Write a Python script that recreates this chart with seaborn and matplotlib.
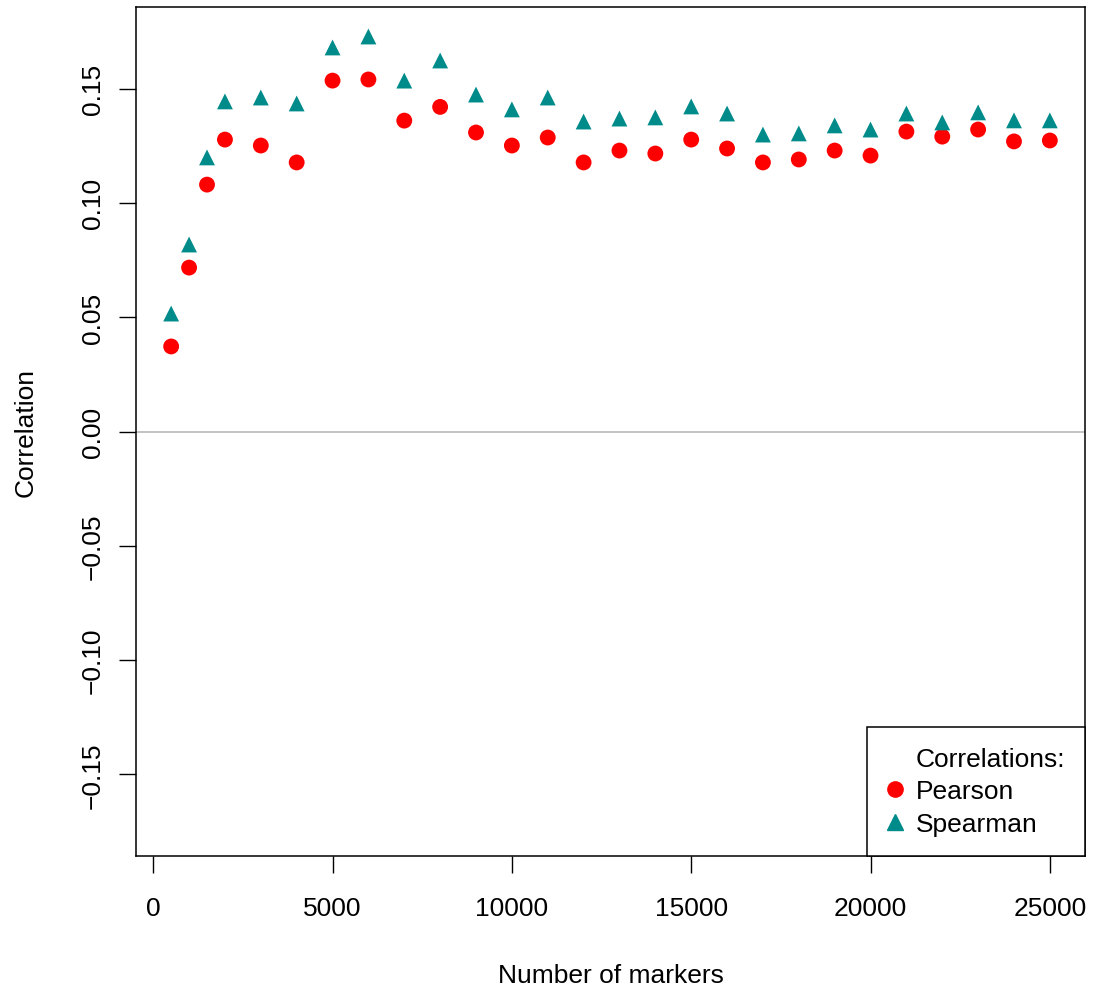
import matplotlib
matplotlib.use("Agg")
import matplotlib.pyplot as plt
from matplotlib.lines import Line2D
import seaborn as sns
import pandas as pd

markers_n = [500, 1000, 1500, 2000, 3000, 4000, 5000, 6000, 7000, 8000, 9000, 10000,
             11000, 12000, 13000, 14000, 15000, 16000, 17000, 18000, 19000, 20000,
             21000, 22000, 23000, 24000, 25000]
pearson = [0.0372, 0.0717, 0.1080, 0.1277, 0.1251, 0.1177, 0.1535, 0.1540, 0.1360,
           0.1420, 0.1308, 0.1251, 0.1286, 0.1177, 0.1229, 0.1216, 0.1277, 0.1238,
           0.1177, 0.1190, 0.1229, 0.1207, 0.1312, 0.1290, 0.1321, 0.1269, 0.1273]
spearman = [0.0516, 0.0818, 0.1199, 0.1444, 0.1461, 0.1435, 0.1680, 0.1728, 0.1535,
            0.1623, 0.1474, 0.1409, 0.1461, 0.1356, 0.1369, 0.1374, 0.1422, 0.1391,
            0.1299, 0.1304, 0.1339, 0.1321, 0.1391, 0.1352, 0.1396, 0.1361, 0.1361]
series_names = ["Pearson", "Spearman"]
series_colors = {"Pearson": "#FF0000", "Spearman": "#008B8B"}
series_markers = {"Pearson": "o", "Spearman": "^"}
x_ticks = [0, 5000, 10000, 15000, 20000, 25000]
y_ticks = [-0.15, -0.10, -0.05, 0.00, 0.05, 0.10, 0.15]

df = pd.DataFrame({
    "n": markers_n * 2,
    "corr": pearson + spearman,
    "method": ["Pearson"] * len(markers_n) + ["Spearman"] * len(markers_n),
})

sns.set_theme(style="white")
plt.rcParams["font.family"] = ["Liberation Sans", "DejaVu Sans"]

FS = 19

fig = plt.figure(figsize=(10.93, 9.87), dpi=100)
ax = fig.add_axes([136 / 1093, 1 - 857 / 987, (1085 - 136) / 1093, (857 - 8) / 987])

ax.axhline(0, color="#BEBEBE", lw=1.3, zorder=1)
sns.scatterplot(data=df, x="n", y="corr", hue="method", style="method",
                palette=series_colors, markers=series_markers, s=130,
                edgecolor="none", linewidth=0, legend=False, ax=ax, zorder=3)

ax.set_xlim(-480, 25980)
ax.set_ylim(-0.1857, 0.1857)
ax.set_xticks(x_ticks)
ax.set_xticklabels([str(t) for t in x_ticks])
ax.set_yticks(y_ticks)
ax.set_yticklabels([f"{t:.2f}".replace("-", "\u2212") for t in y_ticks], rotation=90, va="center")
ax.tick_params(axis="both", direction="out", length=12, width=1, labelsize=FS,
               color="black", labelcolor="black", bottom=True, left=True)
ax.tick_params(axis="x", pad=17)
ax.tick_params(axis="y", pad=10.5)
for sp in ax.spines.values():
    sp.set_color("black")
    sp.set_linewidth(1.1)
ax.set_xlabel("Number of markers", fontsize=FS, labelpad=31, color="black")
ax.set_ylabel("Correlation", fontsize=FS, labelpad=31, color="black")

handles = [Line2D([], [], linestyle="none", marker=None),
           Line2D([], [], linestyle="none", marker="o", color=series_colors["Pearson"], markersize=11),
           Line2D([], [], linestyle="none", marker="^", color=series_colors["Spearman"], markersize=11.5)]
labels = ["Correlations:"] + series_names
leg = ax.legend(handles, labels, loc="lower right", fontsize=FS, frameon=True,
                fancybox=False, edgecolor="black", framealpha=1, borderpad=0.75,
                handletextpad=0.45, handlelength=0.65, labelspacing=0.33,
                borderaxespad=0)
leg.get_frame().set_linewidth(1.1)
for t in leg.get_texts():
    t.set_color("black")

fig.savefig("out.png", dpi=100)
